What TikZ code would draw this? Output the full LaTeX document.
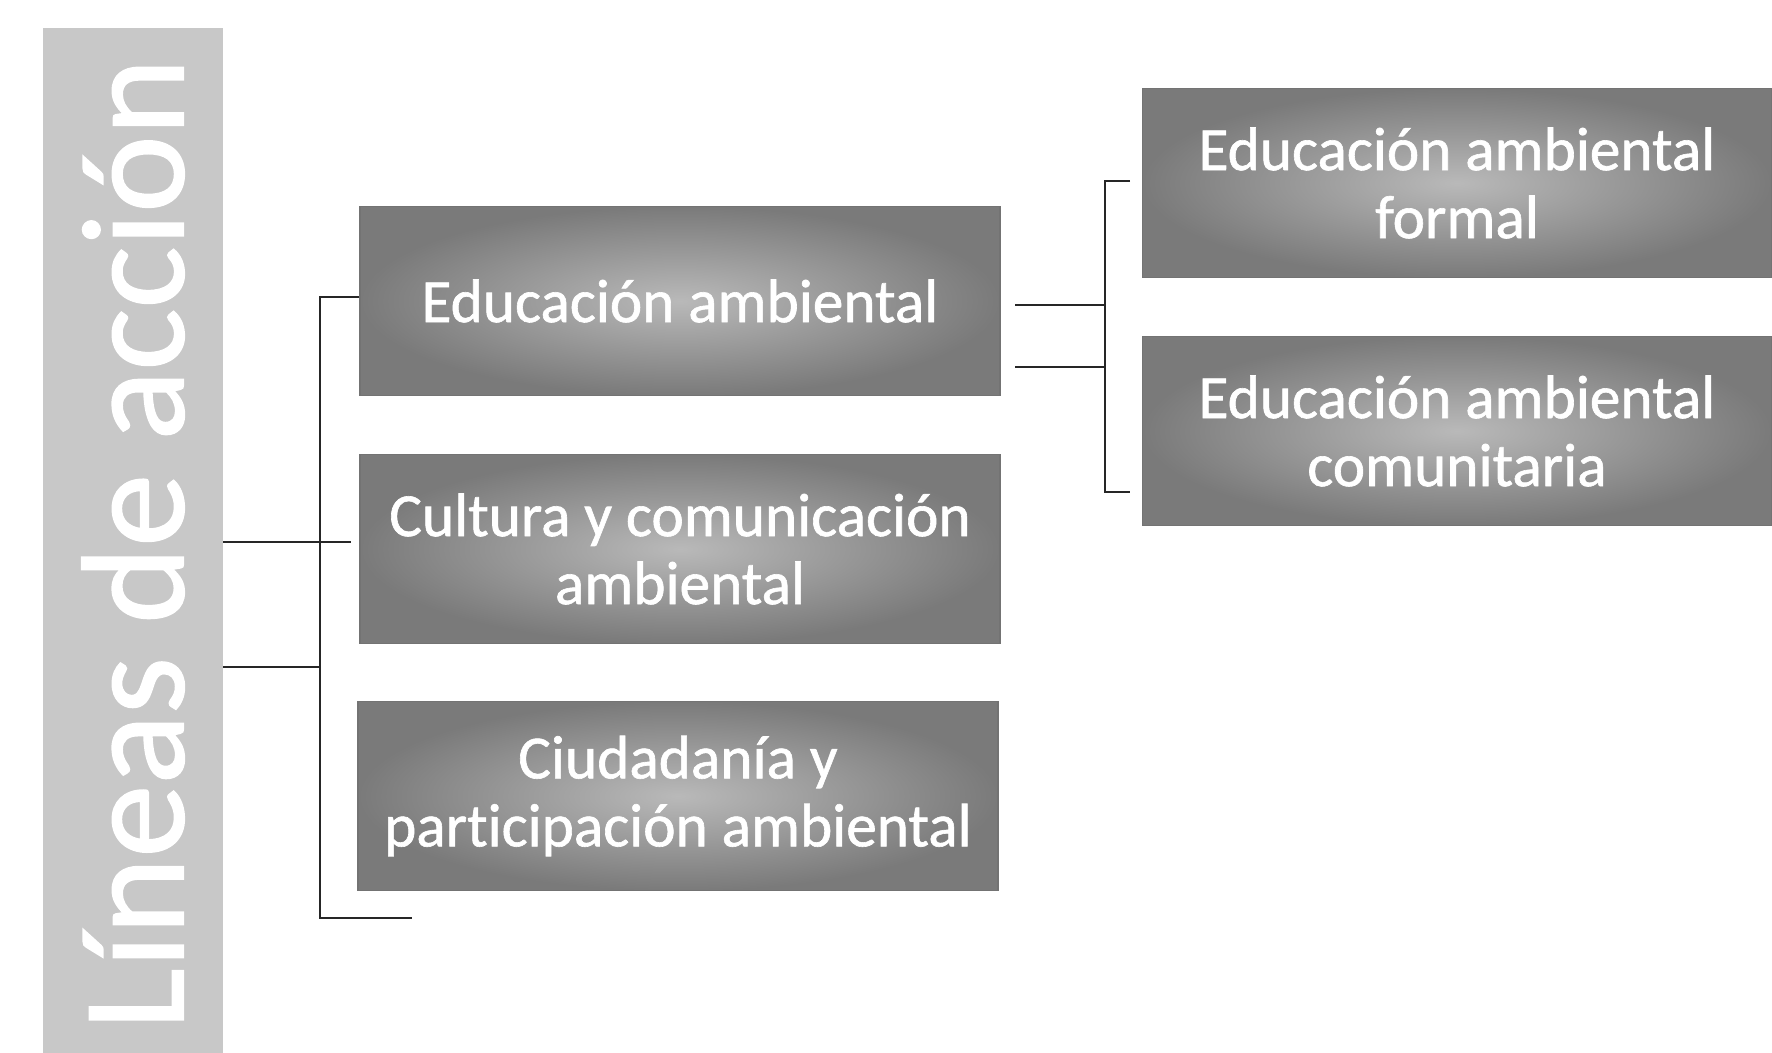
\documentclass[tikz,border=0pt]{standalone}
\usepackage{fontspec}
\setmainfont{Carlito}[Ligatures=NoCommon]
\usetikzlibrary{positioning}
\definecolor{barfill}{RGB}{200,200,200}
\definecolor{boxdark}{RGB}{122,122,122}
\definecolor{boxlight}{RGB}{185,185,185}
\tikzset{
  linebox/.style={shade, shading=radial, inner color=boxlight, outer color=boxdark,
    draw=black!55, line width=0.8pt, text=white, align=center, inner sep=0pt,
    minimum width=480pt, minimum height=142pt,
    font=\fontsize{46}{51}\selectfont\addfontfeature{FakeBold=1}},
  sidebar/.style={fill=barfill, text=white, rotate=90, inner sep=0pt,
    minimum width=774pt, minimum height=135pt,
    font=\fontsize{110}{110}\selectfont\addfontfeature{FakeBold=1}},
  bracket/.style={line width=1.2pt, black!85}
}
\begin{document}
\begin{tikzpicture}[x=0.75pt,y=0.75pt,yscale=-1,xscale=1]
\useasboundingbox (0,0) rectangle (1772,1052);

% side bar
\node[sidebar] (bar) at (133,544) {Líneas de acción};

% first level
\node[linebox] (edu) at (680,301) {Educación ambiental};
\node[linebox] (cult) at (680,549) {Cultura y comunicación\\ambiental};
\node[linebox] (ciud) at (678,796) {Ciudadanía y\\participación ambiental};

% second level
\node[linebox, minimum width=472pt] (formal) at (1457,183) {Educación ambiental\\formal};
\node[linebox, minimum width=472pt] (comun) at (1457,431) {Educación ambiental\\comunitaria};

% left bracket
\coordinate (lt) at (320,297);
\coordinate (lb) at (320,918);
\coordinate (j1) at (320,542);
\coordinate (j2) at (320,667);
\draw[bracket] (lt -| edu.west) -- (lt) -- (lb) -- ++(92,0);
\draw[bracket] (bar.south |- j1) -- ([xshift=-6pt]cult.west |- j1);
\draw[bracket] (bar.south |- j2) -- (j2);

% right bracket
\coordinate (rt) at (1105,181);
\coordinate (rb) at (1105,492);
\coordinate (r1) at (1105,305);
\coordinate (r2) at (1105,367);
\draw[bracket] (rt) ++(25,0) -- (rt) -- (rb) -- ++(25,0);
\draw[bracket] ([xshift=11pt]edu.east |- r1) -- (r1);
\draw[bracket] ([xshift=11pt]edu.east |- r2) -- (r2);

\end{tikzpicture}
\end{document}
